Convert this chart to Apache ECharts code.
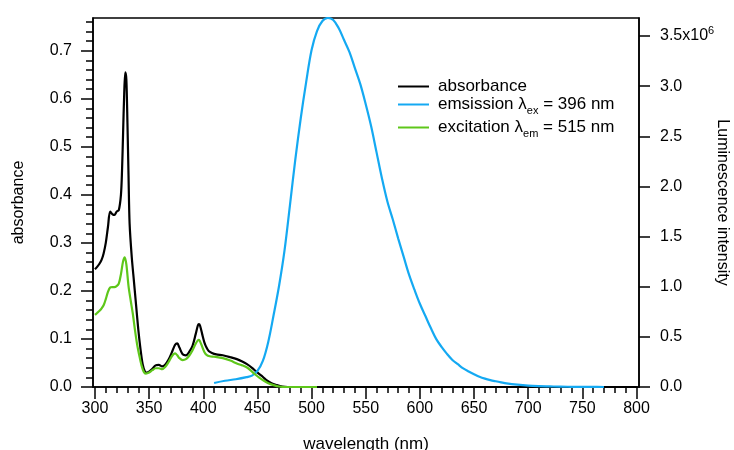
<!DOCTYPE html>
<html>
<head>
<meta charset="utf-8">
<script src="https://cdn.jsdelivr.net/npm/echarts@6/dist/echarts.min.js"></script>
<style>
  html, body { margin: 0; padding: 0; background: #fff; }
  #chart { width: 734px; height: 450px; }
</style>
</head>
<body>
<div id="chart"></div>
<script>
// Absorbance spectrum (left axis)
const absWl = [300, 302, 304, 306, 308, 310, 312, 314, 316, 318, 320, 322, 324, 325, 326, 327, 328, 329, 330, 331, 332, 334, 336, 338, 340, 342, 344, 346, 348, 350, 353, 356, 359, 362, 365, 368, 371, 374, 376, 378, 381, 384, 387, 390, 393, 395, 396, 397, 399, 401, 403, 405, 408, 412, 418, 425, 431, 436, 440, 445, 449, 454, 458, 463, 468, 473, 478, 500, 600, 700, 800];
const absVal = [0.245, 0.250, 0.256, 0.264, 0.278, 0.300, 0.333, 0.365, 0.360, 0.358, 0.365, 0.368, 0.400, 0.450, 0.530, 0.610, 0.655, 0.640, 0.550, 0.440, 0.340, 0.270, 0.220, 0.170, 0.120, 0.080, 0.048, 0.033, 0.030, 0.032, 0.038, 0.045, 0.046, 0.043, 0.047, 0.057, 0.072, 0.088, 0.091, 0.082, 0.068, 0.066, 0.073, 0.085, 0.110, 0.128, 0.131, 0.128, 0.110, 0.093, 0.082, 0.075, 0.071, 0.068, 0.066, 0.062, 0.058, 0.053, 0.048, 0.040, 0.032, 0.023, 0.015, 0.008, 0.004, 0.001, 0, 0, 0, 0, 0];

// Emission spectrum, excitation at 396 nm (right axis, counts)
const emWl = [410, 420, 430, 440, 445, 450, 455, 460, 465, 470, 475, 480, 485, 490, 495, 500, 505, 510, 515, 520, 525, 530, 535, 540, 545, 550, 555, 560, 565, 570, 575, 580, 585, 590, 595, 600, 605, 610, 615, 620, 625, 630, 635, 640, 645, 650, 655, 660, 665, 670, 675, 680, 690, 700, 710, 720, 730, 740, 750, 760, 770];
const emVal = [40000, 62000, 77000, 98000, 113000, 160000, 260000, 450000, 720000, 1010000, 1360000, 1810000, 2270000, 2680000, 3040000, 3360000, 3550000, 3650000, 3680000, 3660000, 3580000, 3460000, 3340000, 3180000, 3020000, 2820000, 2600000, 2340000, 2080000, 1850000, 1670000, 1480000, 1300000, 1120000, 970000, 830000, 710000, 590000, 480000, 400000, 330000, 270000, 227000, 185000, 155000, 128000, 103000, 84000, 69000, 57000, 46000, 36000, 23000, 14000, 9000, 6000, 3000, 2000, 1000, 500, 0];

// Excitation spectrum, emission at 515 nm (left axis scale)
const exWl = [300, 302, 304, 306, 308, 310, 312, 314, 316, 318, 320, 322, 324, 326, 327.5, 329, 331, 333, 335, 337, 339, 341, 343, 345, 347, 350, 353, 356, 359, 362, 365, 368, 371, 374, 376, 378, 381, 384, 387, 390, 393, 395, 396, 397, 399, 401, 403, 406, 410, 418, 425, 431, 436, 440, 444, 448, 452, 456, 460, 465, 470, 475, 490, 505];
const exVal = [0.150, 0.154, 0.158, 0.163, 0.170, 0.183, 0.198, 0.207, 0.208, 0.208, 0.210, 0.215, 0.235, 0.262, 0.270, 0.255, 0.210, 0.180, 0.152, 0.118, 0.088, 0.065, 0.045, 0.032, 0.028, 0.030, 0.035, 0.039, 0.039, 0.037, 0.042, 0.052, 0.064, 0.070, 0.066, 0.060, 0.056, 0.058, 0.065, 0.076, 0.090, 0.097, 0.098, 0.095, 0.084, 0.073, 0.067, 0.064, 0.063, 0.060, 0.055, 0.049, 0.045, 0.041, 0.034, 0.026, 0.019, 0.013, 0.008, 0.004, 0.001, 0, 0, 0];

// Tick positions
const xMajor = [300, 350, 400, 450, 500, 550, 600, 650, 700, 750, 800];
const xMinor = [];
for (let v = 300; v <= 800; v += 10) xMinor.push(v);
const yMajor = [0, 0.1, 0.2, 0.3, 0.4, 0.5, 0.6, 0.7];
const yMinor = [];
for (let i = 0; i <= 38; i++) yMinor.push(+(i * 0.02).toFixed(2));
const y2Major = [0, 500000, 1000000, 1500000, 2000000, 2500000, 3000000, 3500000];

const BLACK = '#000000';
const BLUE = '#14a9f2';
const GREEN = '#5ec71a';
const FONT = 'Liberation Sans, Arial, sans-serif';

const pairs = (xs, ys) => xs.map((x, i) => [x, ys[i]]);

const chart = echarts.init(document.getElementById('chart'), null, { renderer: 'canvas' });

const X_MIN = 298.2, X_MAX = 802.3;
const Y_MAX = 0.768, Y2_MAX = 3680000;

const axisLineStyle = { color: BLACK, width: 1.5 };

function legendBlock(name, top, label) {
  return {
    data: [name],
    left: 398,
    top: top,
    padding: 0,
    itemWidth: 31,
    itemHeight: 2,
    icon: 'rect',
    formatter: () => label,
    textStyle: {
      color: BLACK,
      fontFamily: FONT,
      fontSize: 17,
      padding: [0, 0, 0, 4],
      rich: {
        sub: { fontSize: 11, fontFamily: FONT, color: BLACK, padding: [12, 0, 0, 0] }
      }
    }
  };
}

chart.setOption({
  animation: false,
  backgroundColor: '#ffffff',
  grid: {
    left: 93, right: 95, top: 18, bottom: 63,
    outerBoundsMode: 'none', containLabel: false,
    show: true, borderColor: BLACK, borderWidth: 1.5, backgroundColor: 'transparent'
  },
  legend: [
    legendBlock('absorbance', 78, 'absorbance'),
    legendBlock('emission', 96, 'emsission λ{sub|ex} = 396 nm'),
    legendBlock('excitation', 119, 'excitation λ{sub|em} = 515 nm')
  ],
  xAxis: [
    {
      type: 'value', min: X_MIN, max: X_MAX, position: 'bottom',
      name: 'wavelength (nm)', nameLocation: 'middle', nameGap: 49, nameMoveOverlap: false,
      nameTextStyle: { color: BLACK, fontFamily: FONT, fontSize: 17 },
      axisLine: { show: true, lineStyle: axisLineStyle },
      axisTick: { show: true, inside: false, length: 12, customValues: xMajor, lineStyle: axisLineStyle },
      axisLabel: { show: true, customValues: xMajor, margin: 14, color: BLACK, fontFamily: FONT, fontSize: 16 },
      splitLine: { show: false }
    },
    {
      type: 'value', min: X_MIN, max: X_MAX, position: 'bottom',
      axisLine: { show: false },
      axisTick: { show: true, inside: false, length: 6, customValues: xMinor, lineStyle: axisLineStyle },
      axisLabel: { show: false },
      splitLine: { show: false }
    }
  ],
  yAxis: [
    {
      type: 'value', min: 0, max: Y_MAX, position: 'left',
      name: 'absorbance', nameLocation: 'middle', nameGap: 66, nameMoveOverlap: false,
      nameTextStyle: { color: BLACK, fontFamily: FONT, fontSize: 16 },
      axisLine: { show: true, lineStyle: axisLineStyle },
      axisTick: { show: true, inside: false, length: 12, customValues: yMajor, lineStyle: axisLineStyle },
      axisLabel: { show: true, customValues: yMajor, margin: 21, color: BLACK, fontFamily: FONT, fontSize: 16,
        formatter: v => v.toFixed(1) },
      splitLine: { show: false }
    },
    {
      type: 'value', min: 0, max: Y_MAX, position: 'left',
      axisLine: { show: false },
      axisTick: { show: true, inside: false, length: 7, customValues: yMinor, lineStyle: axisLineStyle },
      axisLabel: { show: false },
      splitLine: { show: false }
    },
    {
      type: 'value', min: 0, max: Y2_MAX, position: 'right',
      name: 'Luminescence intensity', nameLocation: 'middle', nameGap: 75, nameRotate: -90,
      nameMoveOverlap: false,
      nameTextStyle: { color: BLACK, fontFamily: FONT, fontSize: 16 },
      axisLine: { show: true, lineStyle: axisLineStyle },
      axisTick: { show: true, inside: false, length: 11, customValues: y2Major, lineStyle: axisLineStyle },
      axisLabel: {
        show: true, customValues: y2Major, margin: 21, color: BLACK, fontFamily: FONT, fontSize: 16,
        formatter: v => (v >= 3500000 ? (v / 1e6).toFixed(1) + 'x10{sup|6}' : (v / 1e6).toFixed(1)),
        rich: { sup: { fontSize: 11, fontFamily: FONT, color: BLACK, padding: [0, 0, 10, 0] } }
      },
      splitLine: { show: false }
    }
  ],
  series: [
    {
      name: 'absorbance', type: 'line', xAxisIndex: 0, yAxisIndex: 0,
      data: pairs(absWl, absVal), showSymbol: false, smooth: 0.3,
      lineStyle: { color: BLACK, width: 2.2 }, itemStyle: { color: BLACK }, z: 3
    },
    {
      name: 'emission', type: 'line', xAxisIndex: 0, yAxisIndex: 2,
      data: pairs(emWl, emVal), showSymbol: false, smooth: 0.35,
      lineStyle: { color: BLUE, width: 2.2 }, itemStyle: { color: BLUE }, z: 3
    },
    {
      name: 'excitation', type: 'line', xAxisIndex: 0, yAxisIndex: 0,
      data: pairs(exWl, exVal), showSymbol: false, smooth: 0.3,
      lineStyle: { color: GREEN, width: 2.2 }, itemStyle: { color: GREEN }, z: 4
    }
  ]
});
</script>
</body>
</html>
